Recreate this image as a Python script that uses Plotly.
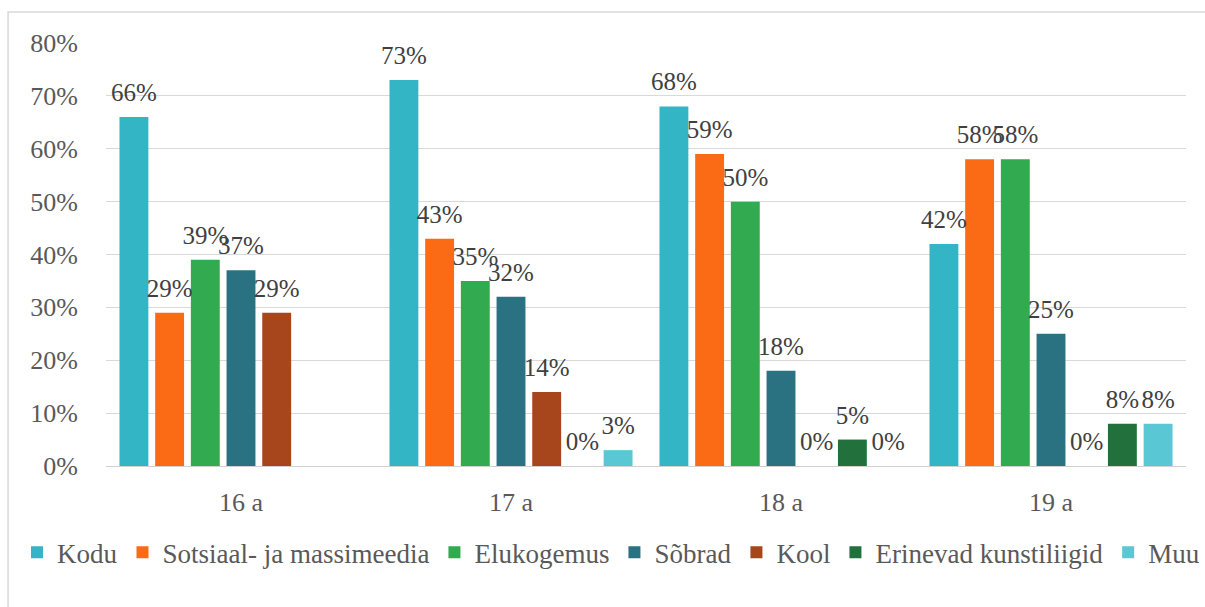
import plotly.graph_objects as go

# ---- data ----
groups = ["16 a", "17 a", "18 a", "19 a"]
series = ["Kodu", "Sotsiaal- ja massimeedia", "Elukogemus", "Sõbrad",
          "Kool", "Erinevad kunstiliigid", "Muu"]
kodu = [0.66, 0.73, 0.68, 0.42]
sotsiaal = [0.29, 0.43, 0.59, 0.58]
elukogemus = [0.39, 0.35, 0.50, 0.58]
sobrad = [0.37, 0.32, 0.18, 0.25]
kool = [0.29, 0.14, 0.00, 0.00]
erinevad = [None, 0.00, 0.05, 0.08]
muu = [None, 0.03, 0.00, 0.08]
values = [kodu, sotsiaal, elukogemus, sobrad, kool, erinevad, muu]
y_ticks = [0, 0.1, 0.2, 0.3, 0.4, 0.5, 0.6, 0.7, 0.8]

# ---- style ----
colors = ["#33B5C6", "#FB6A14", "#31AA50", "#2A7282", "#A7461C", "#22703C", "#5AC8D4"]
FONT = "Liberation Serif, Times New Roman, serif"
slot = 0.1322      # distance between bars inside a group (in category units)
bar_w = 0.107

fig = go.Figure()
n = len(series)
for i, (name, vals) in enumerate(zip(series, values)):
    xs = [g + (i - (n - 1) / 2) * slot for g in range(len(groups))]
    fig.add_trace(go.Bar(
        x=xs, y=vals, width=bar_w, name=name,
        marker=dict(color=colors[i], line=dict(width=0)),
        hoverinfo="skip",
    ))
    lx = [x for x, v in zip(xs, vals) if v is not None]
    lv = [v for v in vals if v is not None]
    fig.add_trace(go.Scatter(
        x=lx, y=lv, mode="markers+text",
        text=[f"{round(v * 100)}%" for v in lv],
        textposition="top center",
        textfont=dict(family=FONT, size=25, color="#404040"),
        marker=dict(size=14, opacity=0),
        cliponaxis=False,
        showlegend=False, hoverinfo="skip",
    ))

fig.update_layout(
    width=1205, height=607,
    margin=dict(l=106, r=19, t=43, b=141),
    paper_bgcolor="white", plot_bgcolor="white",
    barmode="overlay",
    hovermode=False,
    font=dict(family=FONT, size=26, color="#595959"),
    xaxis=dict(
        range=[-0.5, len(groups) - 0.5],
        tickvals=list(range(len(groups))), ticktext=groups,
        showgrid=False, zeroline=False, showline=True,
        linecolor="#d0d0d0", linewidth=1,
        ticks="", ticklabelstandoff=13,
        tickfont=dict(family=FONT, size=26, color="#595959"),
    ),
    yaxis=dict(
        range=[0, 0.8], tickvals=y_ticks, tickformat=".0%",
        showgrid=True, gridcolor="#d9d9d9", gridwidth=1,
        zeroline=False, showline=False, ticks="",
        ticklabelstandoff=27,
        tickfont=dict(family=FONT, size=26, color="#595959"),
    ),
    legend=dict(
        orientation="h", x=-0.075, xanchor="left",
        y=-0.205, yanchor="middle",
        font=dict(family=FONT, size=27, color="#595959"),
        bgcolor="rgba(0,0,0,0)", itemclick=False, itemdoubleclick=False,
    ),
    shapes=[dict(
        type="rect", xref="paper", yref="paper",
        x0=-0.0907, x1=1.2, y0=-0.6, y1=1.0733,
        line=dict(color="#d9d9d9", width=1.5), fillcolor="rgba(0,0,0,0)",
        layer="below",
    )],
)

fig.write_html("out.html", config={"displayModeBar": False, "staticPlot": True},
               post_script="document.body.style.margin='0';")
